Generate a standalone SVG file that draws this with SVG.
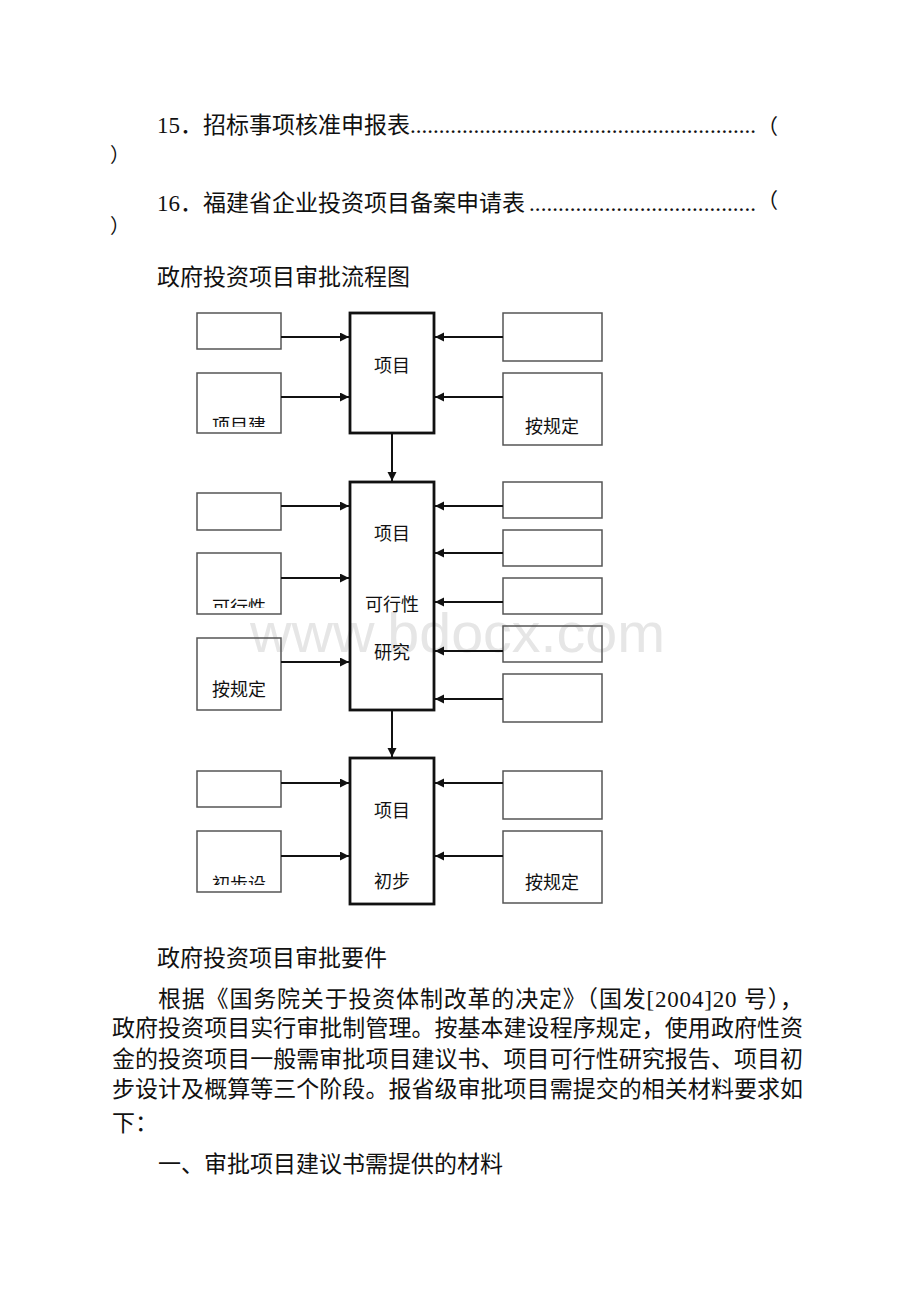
<svg xmlns="http://www.w3.org/2000/svg" width="920" height="1302" viewBox="0 0 920 1302">
<style>
.t{font-family:"Liberation Serif","Noto Sans CJK SC",serif;font-size:23px;fill:#111}
.b{font-family:"Liberation Serif","Noto Sans CJK SC",serif;font-size:18px;fill:#111;text-anchor:middle}
.side{fill:none;stroke:#555;stroke-width:1.5}
.main{fill:none;stroke:#111;stroke-width:2.8}
.conn line{stroke:#111;stroke-width:2}
.wm{font-family:"Liberation Sans",sans-serif;font-size:56px;fill:#e6e6e6}
</style>
<defs>
<marker id="ah" markerUnits="userSpaceOnUse" markerWidth="10" markerHeight="10" refX="9" refY="4.5" orient="auto">
<path d="M0,0 L9,4.5 L0,9 z" fill="#111"/>
</marker>
<clipPath id="c1"><rect x="198" y="374" width="82" height="53"/></clipPath>
<clipPath id="c2"><rect x="198" y="554" width="82" height="54"/></clipPath>
<clipPath id="c3"><rect x="198" y="832" width="82" height="53"/></clipPath>
</defs>
<rect width="920" height="1302" fill="#fff"/>

<g id="header">
<text class="t" x="157" y="133">15．招标事项核准申报表</text>
<text class="t" x="410" y="133" textLength="346" lengthAdjust="spacing">............................................................</text>
<text class="t" x="757" y="134" style="font-size:21px">（</text>
<text class="t" x="110" y="162" style="font-size:20px">）</text>
<text class="t" x="157" y="211">16．福建省企业投资项目备案申请表</text>
<text class="t" x="529" y="211" textLength="227" lengthAdjust="spacing">.......................................</text>
<text class="t" x="757" y="208" style="font-size:21px">（</text>
<text class="t" x="110" y="233" style="font-size:20px">）</text>
<text class="t" x="157" y="285">政府投资项目审批流程图</text>
</g>

<text class="wm" x="250" y="652" textLength="415" lengthAdjust="spacingAndGlyphs">www.bdocx.com</text>

<g id="stage1">
<rect class="main" x="350" y="313" width="84" height="120"/>
<text class="b" x="392" y="372">项目</text>
</g>
<g id="s1-l1"><rect class="side" x="197" y="313" width="84" height="36"/></g>
<g id="s1-l2"><rect class="side" x="197" y="373" width="84" height="60"/><text class="b" x="239" y="432" clip-path="url(#c1)">项目建</text></g>
<g id="s1-r1"><rect class="side" x="503" y="313" width="99" height="48"/></g>
<g id="s1-r2"><rect class="side" x="503" y="373" width="99" height="72"/><text class="b" x="552" y="433">按规定</text></g>

<g id="stage2">
<rect class="main" x="350" y="482" width="84" height="228"/>
<text class="b" x="392" y="540">项目</text>
<text class="b" x="392" y="611">可行性</text>
<text class="b" x="392" y="659">研究</text>
</g>
<g id="s2-l1"><rect class="side" x="197" y="493" width="84" height="37"/></g>
<g id="s2-l2"><rect class="side" x="197" y="553" width="84" height="61"/><text class="b" x="239" y="614" clip-path="url(#c2)">可行性</text></g>
<g id="s2-l3"><rect class="side" x="197" y="638" width="84" height="72"/><text class="b" x="239" y="696">按规定</text></g>
<g id="s2-r1"><rect class="side" x="503" y="482" width="99" height="36"/></g>
<g id="s2-r2"><rect class="side" x="503" y="530" width="99" height="36"/></g>
<g id="s2-r3"><rect class="side" x="503" y="578" width="99" height="36"/></g>
<g id="s2-r4"><rect class="side" x="503" y="626" width="99" height="36"/></g>
<g id="s2-r5"><rect class="side" x="503" y="674" width="99" height="48"/></g>

<g id="stage3">
<rect class="main" x="350" y="758" width="84" height="146"/>
<text class="b" x="392" y="817">项目</text>
<text class="b" x="392" y="888">初步</text>
</g>
<g id="s3-l1"><rect class="side" x="197" y="771" width="84" height="36"/></g>
<g id="s3-l2"><rect class="side" x="197" y="831" width="84" height="61"/><text class="b" x="239" y="891" clip-path="url(#c3)">初步设</text></g>
<g id="s3-r1"><rect class="side" x="503" y="771" width="99" height="48"/></g>
<g id="s3-r2"><rect class="side" x="503" y="831" width="99" height="72"/><text class="b" x="552" y="889">按规定</text></g>

<g id="connectors" class="conn">
<line x1="281" y1="337" x2="349" y2="337" marker-end="url(#ah)"/>
<line x1="281" y1="397" x2="349" y2="397" marker-end="url(#ah)"/>
<line x1="503" y1="337" x2="435" y2="337" marker-end="url(#ah)"/>
<line x1="503" y1="397" x2="435" y2="397" marker-end="url(#ah)"/>
<line x1="392" y1="433" x2="392" y2="481" marker-end="url(#ah)"/>
<line x1="281" y1="506" x2="349" y2="506" marker-end="url(#ah)"/>
<line x1="281" y1="578" x2="349" y2="578" marker-end="url(#ah)"/>
<line x1="281" y1="662" x2="349" y2="662" marker-end="url(#ah)"/>
<line x1="503" y1="506" x2="435" y2="506" marker-end="url(#ah)"/>
<line x1="503" y1="553" x2="435" y2="553" marker-end="url(#ah)"/>
<line x1="503" y1="602" x2="435" y2="602" marker-end="url(#ah)"/>
<line x1="503" y1="651" x2="435" y2="651" marker-end="url(#ah)"/>
<line x1="503" y1="699" x2="435" y2="699" marker-end="url(#ah)"/>
<line x1="392" y1="710" x2="392" y2="757" marker-end="url(#ah)"/>
<line x1="281" y1="783" x2="349" y2="783" marker-end="url(#ah)"/>
<line x1="281" y1="856" x2="349" y2="856" marker-end="url(#ah)"/>
<line x1="503" y1="783" x2="435" y2="783" marker-end="url(#ah)"/>
<line x1="503" y1="856" x2="435" y2="856" marker-end="url(#ah)"/>
</g>

<g id="body">
<text class="t" x="157" y="966">政府投资项目审批要件</text>
<text class="t" x="158" y="1007" textLength="645" lengthAdjust="spacing">根据《国务院关于投资体制改革的决定》（国发[2004]20 号），</text>
<text class="t" x="112" y="1036" textLength="691" lengthAdjust="spacing">政府投资项目实行审批制管理。按基本建设程序规定，使用政府性资</text>
<text class="t" x="112" y="1067" textLength="691" lengthAdjust="spacing">金的投资项目一般需审批项目建议书、项目可行性研究报告、项目初</text>
<text class="t" x="112" y="1097" textLength="691" lengthAdjust="spacing">步设计及概算等三个阶段。报省级审批项目需提交的相关材料要求如</text>
<text class="t" x="112" y="1131">下：</text>
<text class="t" x="158" y="1172">一、审批项目建议书需提供的材料</text>
</g>
</svg>
